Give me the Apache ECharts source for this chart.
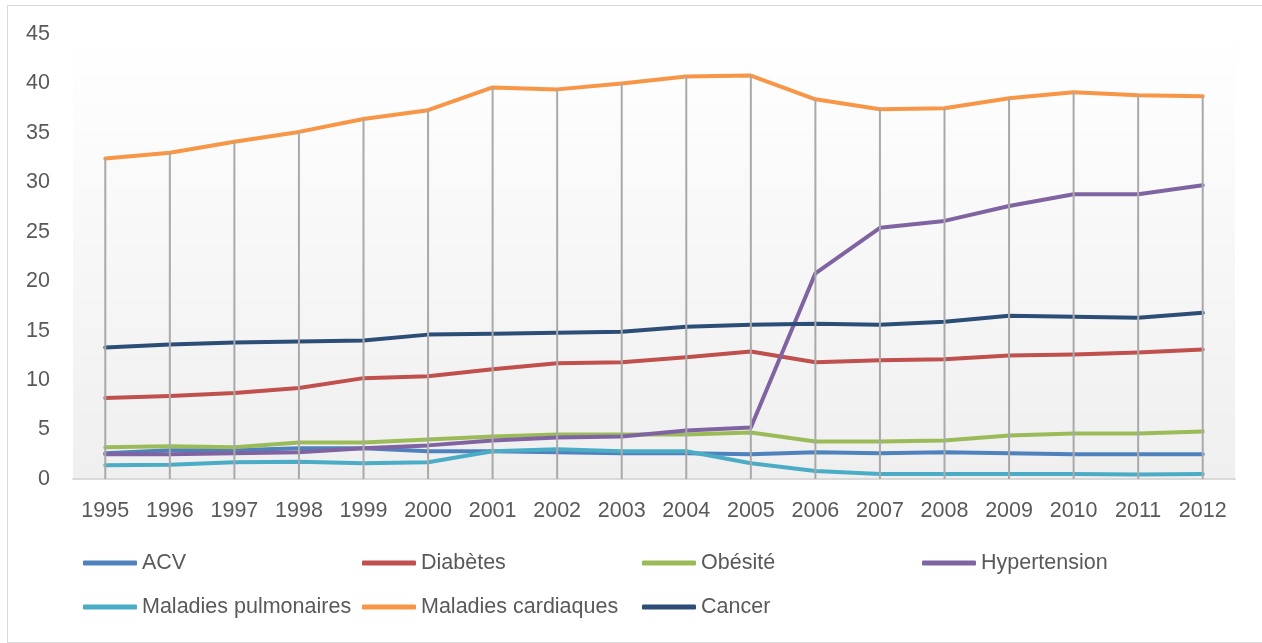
<!DOCTYPE html>
<html>
<head>
<meta charset="utf-8">
<script src="https://cdn.jsdelivr.net/npm/echarts@6/dist/echarts.min.js"></script>
<style>
  html, body { margin: 0; padding: 0; background: #ffffff; }
  #frame { position: absolute; left: 7px; top: 5px; width: 1300px; height: 636px; border: 1px solid #d9d9d9; }
  #chart { position: absolute; left: 0; top: 0; width: 1262px; height: 643px; }
</style>
</head>
<body>
<div id="frame"></div>
<div id="chart"></div>
<script>
const years = ['1995','1996','1997','1998','1999','2000','2001','2002','2003','2004','2005','2006','2007','2008','2009','2010','2011','2012'];
const yTicks = { min: 0, max: 45, interval: 5 };

const acv          = [2.6, 2.9, 2.9, 3.1, 3.1, 2.8, 2.8, 2.7, 2.6, 2.6, 2.5, 2.7, 2.6, 2.7, 2.6, 2.5, 2.5, 2.5];
const diabetes     = [8.2, 8.4, 8.7, 9.2, 10.2, 10.4, 11.1, 11.7, 11.8, 12.3, 12.9, 11.8, 12.0, 12.1, 12.5, 12.6, 12.8, 13.1];
const obesite      = [3.2, 3.3, 3.2, 3.7, 3.7, 4.0, 4.3, 4.5, 4.5, 4.5, 4.7, 3.8, 3.8, 3.9, 4.4, 4.6, 4.6, 4.8];
const hypertension = [2.5, 2.5, 2.6, 2.7, 3.1, 3.4, 3.9, 4.2, 4.3, 4.9, 5.2, 20.8, 25.4, 26.1, 27.6, 28.8, 28.8, 29.7];
const pulmonaires  = [1.4, 1.45, 1.7, 1.75, 1.6, 1.7, 2.8, 3.0, 2.8, 2.8, 1.6, 0.8, 0.5, 0.5, 0.5, 0.5, 0.45, 0.5];
const cardiaques   = [32.4, 33.0, 34.1, 35.1, 36.4, 37.3, 39.6, 39.4, 40.0, 40.7, 40.8, 38.4, 37.4, 37.5, 38.5, 39.1, 38.8, 38.7];
const cancer       = [13.3, 13.6, 13.8, 13.9, 14.0, 14.6, 14.7, 14.8, 14.9, 15.4, 15.6, 15.7, 15.6, 15.9, 16.5, 16.4, 16.3, 16.8];

const seriesDefs = [
  { name: 'ACV', data: acv, color: '#4f81bd' },
  { name: 'Diabètes', data: diabetes, color: '#c0504d' },
  { name: 'Obésité', data: obesite, color: '#9bbb59' },
  { name: 'Hypertension', data: hypertension, color: '#8064a2' },
  { name: 'Maladies pulmonaires', data: pulmonaires, color: '#4bacc6' },
  { name: 'Maladies cardiaques', data: cardiaques, color: '#f79646' },
  { name: 'Cancer', data: cancer, color: '#2c4d75' }
];

// drop lines: from axis up to the highest series value per category
const dropTop = years.map((_, i) => Math.max(...seriesDefs.map(s => s.data[i])));

const FONT = '"Liberation Sans", Arial, sans-serif';
const TXT = '#595959';

const legendPos = [
  { left: 83, top: 552 }, { left: 362, top: 552 }, { left: 642, top: 552 }, { left: 922, top: 552 },
  { left: 83, top: 596 }, { left: 362, top: 596 }, { left: 642, top: 596 }
];

const legends = seriesDefs.map((s, i) => ({
  data: [s.name],
  left: legendPos[i].left,
  top: legendPos[i].top,
  icon: 'roundRect',
  itemWidth: 54,
  itemHeight: 5,
  padding: 0,
  selectedMode: false,
  textStyle: { fontFamily: FONT, fontSize: 21.5, color: TXT }
}));

const chart = echarts.init(document.getElementById('chart'), null, { renderer: 'canvas' });
chart.setOption({
  backgroundColor: 'transparent',
  animation: false,
  legend: legends,
  grid: {
    left: 73, right: 27, top: 34, bottom: 164,
    show: true, borderWidth: 0,
    backgroundColor: {
      type: 'linear', x: 0, y: 0, x2: 0, y2: 1,
      colorStops: [{ offset: 0, color: '#ffffff' }, { offset: 1, color: '#efefef' }]
    }
  },
  xAxis: {
    type: 'category',
    data: years,
    boundaryGap: true,
    axisTick: { show: false },
    axisLine: { show: true, lineStyle: { color: '#d9d9d9', width: 2 } },
    axisLabel: { fontFamily: FONT, fontSize: 21.5, color: TXT, margin: 21 },
    splitLine: { show: false }
  },
  yAxis: {
    type: 'value',
    min: yTicks.min, max: yTicks.max, interval: yTicks.interval,
    axisLine: { show: false },
    axisTick: { show: false },
    splitLine: { show: false },
    axisLabel: { fontFamily: FONT, fontSize: 21.5, color: TXT, margin: 23 }
  },
  series: seriesDefs.map(s => ({
    name: s.name,
    type: 'line',
    data: s.data,
    showSymbol: false,
    symbol: 'none',
    smooth: false,
    lineStyle: { width: 4, color: s.color, cap: 'round', join: 'round' },
    itemStyle: { color: s.color },
    z: 2
  })).concat([{
    name: '_drop',
    type: 'bar',
    data: dropTop,
    barWidth: 2,
    silent: true,
    itemStyle: { color: '#a9a9a9' },
    z: 3
  }])
});
</script>
</body>
</html>
